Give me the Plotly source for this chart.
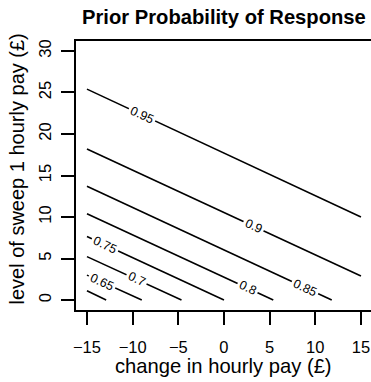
import plotly.graph_objects as go

# Contour levels of the prior probability of response and the end points of
# each (straight) contour line, in data units.
levels = [0.6, 0.65, 0.7, 0.75, 0.8, 0.85, 0.9, 0.95]
x_start = [-15, -15, -15, -15, -15, -15, -15, -15]
y_start = [1.12, 3.0, 5.23, 7.65, 10.4, 13.7, 18.2, 25.4]
x_end = [-12.9, -9.0, -4.65, 0.0, 5.4, 11.8, 15, 15]
y_end = [0, 0, 0, 0, 0, 0, 2.9, 10.0]

# Inline contour labels (0.6 is too short to carry one).
label_text = ["0.65", "0.7", "0.75", "0.8", "0.85", "0.9", "0.95"]
label_x = [-13.4, -9.56, -13.03, 2.63, 8.87, 3.2, -9.0]
label_y = [2.2, 2.48, 6.65, 1.4, 1.5, 8.9, 22.3]

x_ticks = [-15, -10, -5, 0, 5, 10, 15]
y_ticks = [0, 5, 10, 15, 20, 25, 30]

FONT = "Liberation Sans, Arial, Helvetica, sans-serif"

fig = go.Figure()
for lv, xa, ya, xb, yb in zip(levels, x_start, y_start, x_end, y_end):
    fig.add_trace(go.Scatter(
        x=[xa, xb], y=[ya, yb], mode="lines",
        line=dict(color="black", width=1.6),
        name=str(lv), showlegend=False, hoverinfo="skip",
    ))

annotations = []
for t, lx, ly in zip(label_text, label_x, label_y):
    annotations.append(dict(
        x=lx, y=ly, xref="x", yref="y", text=t, showarrow=False,
        textangle=25, bgcolor="white", borderpad=2,
        font=dict(family=FONT, size=12.5, color="black"),
        xanchor="center", yanchor="middle",
    ))

# Title and axis titles
annotations.append(dict(
    x=0.5, y=1, xref="paper", yref="paper", yanchor="middle", yshift=24,
    text="<b>Prior Probability of Response</b>", showarrow=False,
    font=dict(family=FONT, size=20.2, color="black"),
))
annotations.append(dict(
    x=0.5, y=0, xref="paper", yref="paper", yanchor="middle", yshift=-56,
    text="change in hourly pay (£)", showarrow=False,
    font=dict(family=FONT, size=20.2, color="black"),
))
annotations.append(dict(
    x=0, y=0.5, xref="paper", yref="paper", xanchor="center", yanchor="middle",
    xshift=-59.5, yshift=6.5, textangle=-90,
    text="level of sweep 1 hourly pay (£)", showarrow=False,
    font=dict(family=FONT, size=20, color="black"),
))

fig.update_layout(
    width=371, height=382,
    margin=dict(l=76, r=0, t=41, b=72),
    paper_bgcolor="white", plot_bgcolor="white",
    font=dict(family=FONT, color="black"),
    annotations=annotations,
    xaxis=dict(
        range=[-16.2, 16.1], tickvals=x_ticks, ticks="outside", ticklen=13,
        tickwidth=1.6, tickcolor="black", showgrid=False, zeroline=False,
        showline=True, linecolor="black", linewidth=1.8, mirror=True,
        tickfont=dict(family=FONT, size=16.5, color="black"),
        ticklabelstandoff=8,
    ),
    yaxis=dict(
        range=[-1.2, 31.2], tickvals=y_ticks, ticks="outside", ticklen=13,
        tickwidth=1.6, tickcolor="black", showgrid=False, zeroline=False,
        showline=True, linecolor="black", linewidth=1.8,
        tickangle=-90,
        tickfont=dict(family=FONT, size=16.5, color="black"),
        ticklabelstandoff=4,
    ),
)

fig.write_html("out.html")
